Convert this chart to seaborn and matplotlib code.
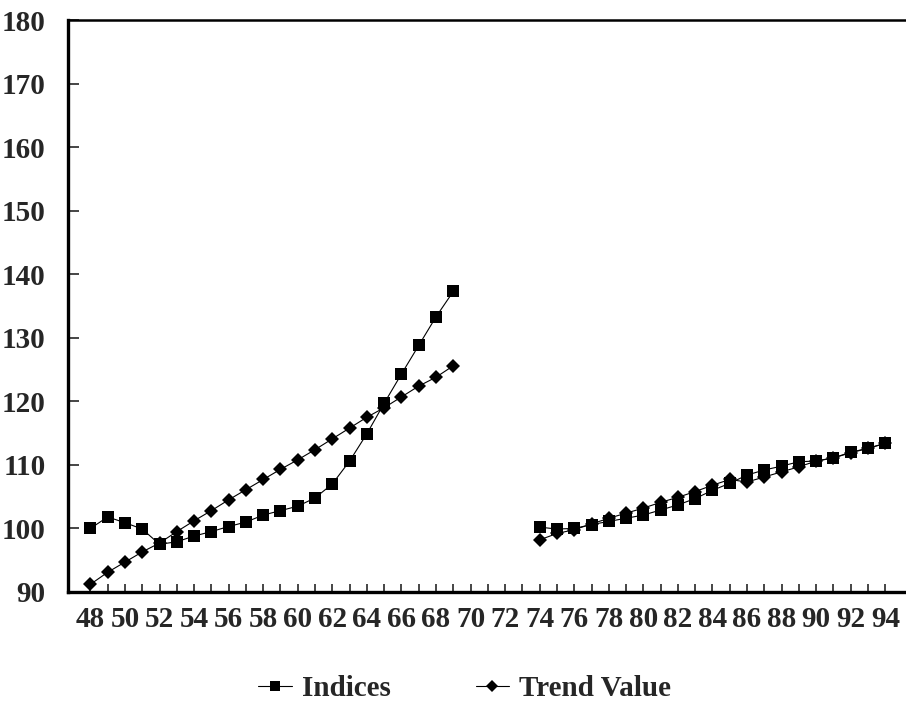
import numpy as np
import pandas as pd
import seaborn as sns
import matplotlib.pyplot as plt
from matplotlib.lines import Line2D

sns.set_theme(style="white")
plt.rcParams['font.family'] = ['Liberation Serif', 'DejaVu Serif']
plt.rcParams['font.weight'] = 'bold'

# years (19xx), first block and second block
years_a = list(range(48, 70))
years_b = list(range(74, 95))

indices_a = [100.0, 101.8, 100.9, 99.9, 97.5, 97.9, 98.8, 99.5, 100.3, 101.0, 102.1,
             102.8, 103.5, 104.8, 107.0, 110.6, 114.9, 119.7, 124.3, 128.8, 133.3, 137.3]
trend_a = [91.2, 93.1, 94.7, 96.3, 97.7, 99.5, 101.2, 102.8, 104.5, 106.1, 107.7,
           109.3, 110.8, 112.4, 114.1, 115.8, 117.5, 119.0, 120.7, 122.4, 123.8, 125.6]

indices_b = [100.2, 99.9, 100.0, 100.6, 101.1, 101.6, 102.1, 102.9, 103.7, 104.7, 106.0,
             107.1, 108.4, 109.2, 109.8, 110.5, 110.6, 111.1, 112.0, 112.6, 113.4]
trend_b = [98.2, 99.2, 99.8, 100.7, 101.6, 102.4, 103.2, 104.1, 104.9, 105.8, 106.8,
           107.7, 107.3, 108.1, 108.9, 109.7, 110.6, 111.1, 111.9, 112.6, 113.4]

rows = []
for seg, yrs, ind, tr in [("a", years_a, indices_a, trend_a), ("b", years_b, indices_b, trend_b)]:
    for y, i, t in zip(yrs, ind, tr):
        rows.append({"year": y, "value": i, "series": "Indices", "seg": seg})
        rows.append({"year": y, "value": t, "series": "Trend Value", "seg": seg})
df = pd.DataFrame(rows)

fig = plt.figure(figsize=(9.06, 7.21), dpi=100)
ax = fig.add_axes([0.075, 0.179, 0.925, 0.793])

markers = {"Indices": "s", "Trend Value": "D"}
sizes = {"Indices": 8.5, "Trend Value": 7.5}
for name in ["Trend Value", "Indices"]:
    for seg in ["a", "b"]:
        d = df[(df.series == name) & (df.seg == seg)]
        sns.lineplot(data=d, x="year", y="value", ax=ax, color="black", lw=0.8,
                     marker=markers[name], markersize=sizes[name], markeredgewidth=0,
                     estimator=None, legend=False, clip_on=False)

ax.set_xlim(46.7, 95.2)
ax.set_ylim(90, 180)
ax.set_xticks(range(48, 95))
ax.set_xticklabels([str(v) if v % 2 == 0 else "" for v in range(48, 95)])
ax.set_yticks(range(90, 181, 10))
ax.tick_params(axis="x", direction="in", length=6, width=1.2, labelsize=21, pad=10, bottom=True)
ax.tick_params(axis="y", direction="in", length=8, width=1.2, labelsize=21, pad=16, left=True)
for lab in ax.get_xticklabels() + ax.get_yticklabels():
    lab.set_fontweight("bold")
ax.set_xlabel("")
ax.set_ylabel("")

for s in ["left", "bottom"]:
    ax.spines[s].set_linewidth(2.4)
    ax.spines[s].set_color("black")
ax.spines["top"].set_linewidth(1.8)
ax.spines["top"].set_color("black")
ax.spines["right"].set_visible(False)

handles = [Line2D([], [], color="black", lw=0.8, marker="s", markersize=7, markeredgewidth=0),
           Line2D([], [], color="black", lw=0.8, marker="D", markersize=6.5, markeredgewidth=0)]
fig.legend(handles, ["Indices", "Trend Value"], loc="center", bbox_to_anchor=(0.513, 0.045),
           ncol=2, frameon=False, handlelength=1.15, columnspacing=2.9,
           handletextpad=0.35, prop={"weight": "bold", "size": 21})

fig.savefig("out.png", dpi=100)
